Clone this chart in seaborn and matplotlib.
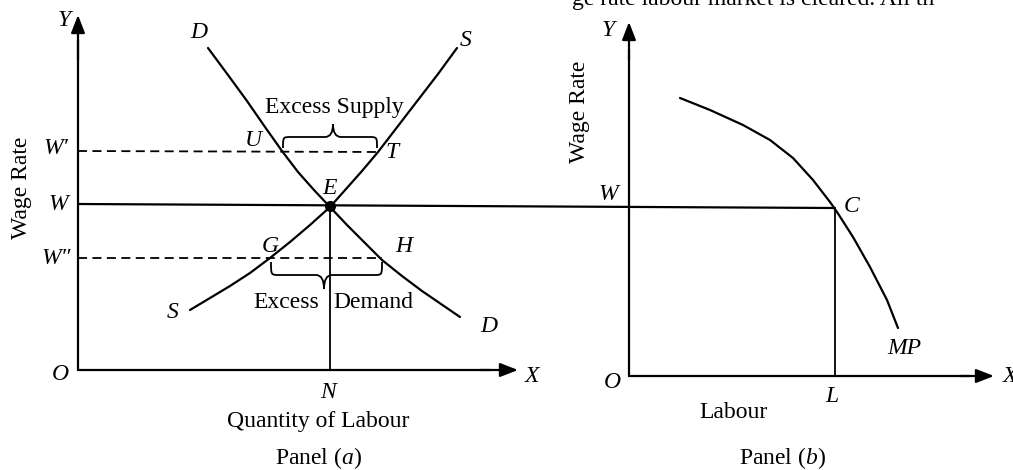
import numpy as np
import matplotlib.pyplot as plt
import seaborn as sns
from matplotlib.path import Path
from matplotlib.patches import PathPatch

sns.set_theme(style="white")
plt.rcParams["font.family"] = ["Liberation Serif", "DejaVu Serif"]
plt.rcParams["mathtext.fontset"] = "custom"
plt.rcParams["mathtext.rm"] = "Liberation Serif"
plt.rcParams["mathtext.it"] = "Liberation Serif:italic"

# --- panel (a): demand / supply of labour (figure pixel coords, y down) ---
d_x = [208, 228, 247, 265, 282, 298, 314, 330, 347, 364, 382, 402, 422, 441, 460]
d_y = [48, 75, 101, 127, 151, 172, 190, 207, 225, 242, 260, 276, 291, 304, 317]
s_x = [190, 210, 230, 250, 270, 290, 310, 330, 346, 362, 378, 398, 418, 438, 457]
s_y = [310, 298, 286, 273, 258, 242, 225, 207, 189, 171, 152, 126, 100, 74, 48]

# --- panel (b): marginal product curve ---
mp_x = [680, 710, 743, 770, 793, 813, 830, 837, 853, 870, 887, 898]
mp_y = [98, 110, 125, 140, 158, 180, 202, 212, 237, 267, 300, 328]

origin_a = (78, 370)
origin_b = (629, 376)
w_level = 206
w_high = 151
w_low = 258
eq_x = 330
c_x = 835

fig = plt.figure(figsize=(10.13, 4.70), dpi=100)
ax = fig.add_axes([0, 0, 1, 1])
ax.set_xlim(0, 1013)
ax.set_ylim(470, 0)
ax.axis("off")

lw = 1.6
k = "black"

def arrow_axis(x0, y0, x1, y1):
    ax.annotate("", xy=(x1, y1), xytext=(x0, y0),
                arrowprops=dict(arrowstyle="-|>,head_length=0.9,head_width=0.35",
                                color=k, lw=lw, shrinkA=0, shrinkB=0))

def brace(x0, x1, y_end, y_flat, y_tip, xm):
    # curly brace opening toward y_end
    p = [(x0, y_end), (x0, y_flat), (x0, y_flat), (x0 + 8, y_flat),
         (xm - 8, y_flat), (xm, y_flat), (xm, y_tip),
         (xm, y_flat), (xm + 8, y_flat), (x1 - 8, y_flat),
         (x1, y_flat), (x1, y_flat), (x1, y_end)]
    codes = [Path.MOVETO, Path.CURVE4, Path.CURVE4, Path.CURVE4,
             Path.LINETO, Path.CURVE3, Path.CURVE3,
             Path.CURVE3, Path.CURVE3, Path.LINETO,
             Path.CURVE4, Path.CURVE4, Path.CURVE4]
    ax.add_patch(PathPatch(Path(p, codes), fill=False, color=k, lw=1.3))

# axes panel (a)
ax.plot([origin_a[0], origin_a[0]], [origin_a[1], 40], color=k, lw=lw)
arrow_axis(origin_a[0], 60, origin_a[0], 15)
ax.plot([origin_a[0], 490], [origin_a[1], origin_a[1]], color=k, lw=lw)
arrow_axis(480, origin_a[1], 518, origin_a[1])

# axes panel (b)
ax.plot([origin_b[0], origin_b[0]], [origin_b[1], 50], color=k, lw=lw)
arrow_axis(origin_b[0], 60, origin_b[0], 22)
ax.plot([origin_b[0], 970], [origin_b[1], origin_b[1]], color=k, lw=lw)
arrow_axis(960, origin_b[1], 994, origin_b[1])

# curves
sns.lineplot(x=d_x, y=d_y, sort=False, estimator=None, color=k, lw=lw, ax=ax)
sns.lineplot(x=s_x, y=s_y, sort=False, estimator=None, color=k, lw=lw, ax=ax)
sns.lineplot(x=mp_x, y=mp_y, sort=False, estimator=None, color=k, lw=lw, ax=ax)

# wage lines
ax.plot([origin_a[0], c_x], [w_level - 2, w_level + 2], color=k, lw=lw)
ax.plot([origin_a[0], 378], [w_high, w_high + 1], color=k, lw=1.3, dashes=(5, 3))
ax.plot([origin_a[0], 382], [w_low, w_low], color=k, lw=1.3, dashes=(5, 3))
ax.plot([eq_x, eq_x], [w_level, origin_a[1]], color=k, lw=1.3)
ax.plot([c_x, c_x], [w_level + 2, origin_b[1]], color=k, lw=1.3)
ax.plot([eq_x], [w_level], "o", color=k, ms=7)

brace(283, 377, 148, 137, 124, 333)
brace(271, 382, 262, 275, 289, 324)

it = dict(fontsize=17, style="italic", ha="center", va="center", color=k)
rm = dict(fontsize=17, ha="center", va="center", color=k)

for s, x, y in [("Y", 64, 20), ("O", 60, 374), ("X", 532, 376), ("D", 199, 33),
                ("S", 466, 40), ("U", 253, 140), ("T", 392, 153), ("E", 329, 189),
                ("G", 270, 247), ("H", 404, 247), ("S", 173, 312), ("D", 489, 326),
                ("W\u2032", 56, 148), ("W", 58, 204), ("W\u2033", 56, 258),
                ("N", 328, 392), ("Y", 608, 30), ("O", 612, 382), ("W", 608, 195),
                ("C", 852, 207), ("L", 832, 397), ("MP", 904, 348), ("X", 1010, 376)]:
    ax.text(x, y, s, **it)

ax.text(334, 108, "Excess Supply", **rm)
ax.text(319, 303, "Excess", ha="right", va="center", fontsize=17, color=k)
ax.text(333, 303, "Demand", ha="left", va="center", fontsize=17, color=k)
ax.text(318, 422, "Quantity of Labour", **rm)
ax.text(318, 458, r"Panel ($\mathit{a}$)", **rm)
ax.text(22, 188, "Wage Rate", rotation=90, **rm)
ax.text(580, 112, "Wage Rate", rotation=90, **rm)
ax.text(733, 413, "Labour", **rm)
ax.text(782, 458, r"Panel ($\mathit{b}$)", **rm)
ax.text(572, 5, "ge rate labour market is cleared. All th", fontsize=17,
        ha="left", va="baseline", color=k)

fig.savefig("out.png", dpi=100)
